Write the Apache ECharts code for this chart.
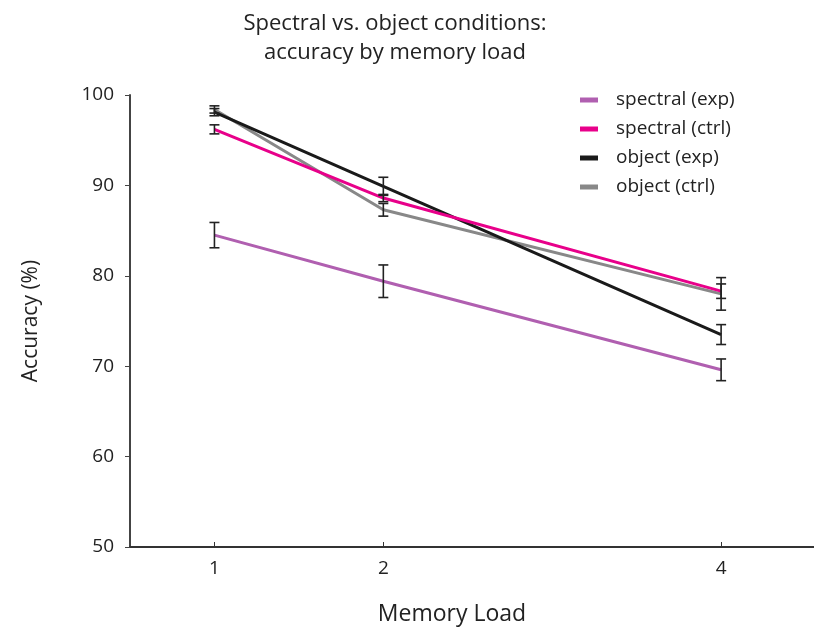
<!DOCTYPE html>
<html>
<head>
<meta charset="utf-8">
<script src="https://cdn.jsdelivr.net/npm/echarts@6/dist/echarts.min.js"></script>
<style>html,body{margin:0;padding:0;background:#fff}#c{width:814px;height:632px}</style>
</head>
<body>
<div id="c"></div>
<script>
const memoryLoad = [1, 2, 4];
const seriesNames = ['spectral (exp)', 'spectral (ctrl)', 'object (exp)', 'object (ctrl)'];
const spectralExp = [84.5, 79.4, 69.6];
const spectralCtrl = [96.2, 88.6, 78.3];
const objectExp = [98.1, 89.9, 73.5];
const objectCtrl = [98.4, 87.3, 78.0];
const errSpectralExp = [1.4, 1.8, 1.2];
const errSpectralCtrl = [0.5, 0.4, 0.8];
const errObjectExp = [0.4, 1.0, 1.1];
const errObjectCtrl = [0.4, 0.7, 1.8];
const yTicks = [50, 60, 70, 80, 90, 100];

const colors = ['#b05fb0', '#e8008a', '#1a1a1a', '#888888'];
const values = [spectralExp, spectralCtrl, objectExp, objectCtrl];
const errs = [errSpectralExp, errSpectralCtrl, errObjectExp, errObjectCtrl];
const FONT = '"Open Sans", "DejaVu Sans", sans-serif';

const drawOrder = [3, 0, 2, 1];
const lineSeries = drawOrder.map(i => ({
  name: seriesNames[i],
  type: 'line',
  data: memoryLoad.map((x, k) => [x, values[i][k]]),
  symbol: 'none',
  lineStyle: { color: colors[i], width: 3 },
  itemStyle: { color: colors[i] },
  z: 2 + drawOrder.indexOf(i)
}));

const errData = [];
values.forEach((v, i) => memoryLoad.forEach((x, k) => errData.push([x, v[k] - errs[i][k], v[k] + errs[i][k]])));

const errSeries = {
  type: 'custom',
  silent: true,
  z: 10,
  data: errData,
  renderItem: function (params, api) {
    const x = api.value(0);
    const lo = api.coord([x, api.value(1)]);
    const hi = api.coord([x, api.value(2)]);
    const w = 5;
    const style = { stroke: '#222', lineWidth: 1.6 };
    return {
      type: 'group',
      children: [
        { type: 'line', shape: { x1: lo[0], y1: lo[1], x2: hi[0], y2: hi[1] }, style },
        { type: 'line', shape: { x1: lo[0] - w, y1: lo[1], x2: lo[0] + w, y2: lo[1] }, style },
        { type: 'line', shape: { x1: hi[0] - w, y1: hi[1], x2: hi[0] + w, y2: hi[1] }, style }
      ]
    };
  }
};

const chart = echarts.init(document.getElementById('c'));
chart.setOption({
  animation: false,
  backgroundColor: '#fff',
  title: {
    text: 'Spectral vs. object conditions:\naccuracy by memory load',
    left: 390, top: 4, textAlign: 'center',
    textStyle: { fontFamily: FONT, fontSize: 22, fontWeight: 'normal', color: '#222', lineHeight: 29 }
  },
  legend: {
    data: seriesNames,
    orient: 'vertical',
    left: 575, top: 85,
    itemWidth: 18, itemHeight: 5, itemGap: 9,
    icon: 'rect',
    textStyle: { fontFamily: FONT, fontSize: 19, color: '#222', lineHeight: 20, padding: [0, 0, 0, 13] }
  },
  grid: { left: 130, top: 95, right: 0, bottom: 85, containLabel: false },
  xAxis: {
    type: 'value',
    min: 0.5, max: 4.55,
    name: 'Memory Load',
    nameLocation: 'middle',
    nameGap: 56,
    nameTextStyle: { fontFamily: FONT, fontSize: 23, color: '#222', padding: [0, 40, 0, 0] },
    axisLine: { show: true, lineStyle: { color: '#333', width: 2 } },
    axisTick: { show: true, inside: true, length: 5, customValues: memoryLoad, lineStyle: { color: '#333', width: 1 } },
    axisLabel: { customValues: memoryLoad, fontFamily: FONT, fontSize: 19, color: '#222', margin: 12 },
    splitLine: { show: false }
  },
  yAxis: {
    type: 'value',
    min: 50, max: 100, interval: 10,
    name: 'Accuracy (%)',
    nameLocation: 'middle',
    nameGap: 88,
    nameRotate: 90,
    nameTextStyle: { fontFamily: FONT, fontSize: 21, color: '#222' },
    axisLine: { show: true, lineStyle: { color: '#444', width: 2 } },
    axisTick: { show: true, length: 5, lineStyle: { color: '#444', width: 1 } },
    axisLabel: { fontFamily: FONT, fontSize: 19, color: '#222', margin: 16,
      formatter: v => yTicks.includes(v) ? String(v) : '' },
    splitLine: { show: false }
  },
  series: lineSeries.concat([errSeries])
});
</script>
</body>
</html>
